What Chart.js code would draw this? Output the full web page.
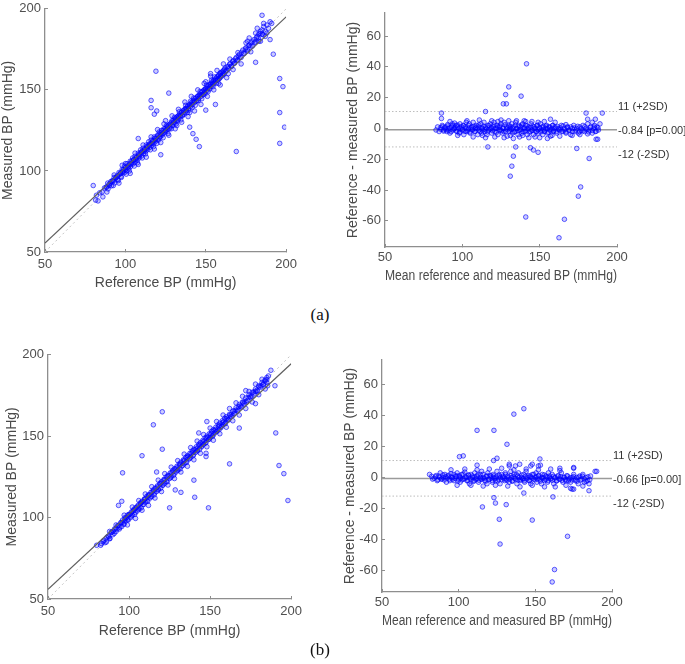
<!DOCTYPE html>
<html><head><meta charset="utf-8">
<script src="https://cdn.jsdelivr.net/npm/chart.js@4.4.0/dist/chart.umd.min.js"></script>
<style>
html,body{margin:0;padding:0;background:#fff;}
body{width:685px;height:664px;position:relative;overflow:hidden;}
canvas{position:absolute;}
.cap{position:absolute;font-family:"Liberation Serif","Times New Roman",serif;font-size:17px;color:#111;width:40px;text-align:center;line-height:20px;}
</style></head><body>
<canvas id="c1"></canvas>
<canvas id="c2"></canvas>
<canvas id="c3"></canvas>
<canvas id="c4"></canvas>
<div class="cap" style="left:300px;top:305px">(a)</div>
<div class="cap" style="left:300px;top:640px">(b)</div>
<script>
// ---------------- DATA ----------------
const xTitleCorr = 'Reference BP (mmHg)';
const yTitleCorr = 'Measured BP (mmHg)';
const xTitleBA = 'Mean reference and measured BP (mmHg)';
const yTitleBA = 'Reference - measured BP (mmHg)';

// (a) correlation: [reference, measured]
const corrABand = [[82,85],[83,81.5],[84,86.5],[85.5,87],[86,84],[87,89.5],[88,90],[88.5,87],[89,92.5],[90,91],[91,93.5],[92,94],[92.5,91],[93,96],[94,95.5],[95,97],[95.5,94],[96,99],[97,98.5],[97.5,96],[98,101],[98.5,99],[99,100],[99.5,103],[100,101],[100.5,98],[101,104.5],[101.5,102],[102,103],[102.5,100],[103,106],[103.5,104],[104,105],[104.5,108],[105,106.5],[105.5,103],[106,109],[106.5,107],[107,108],[107.5,105],[108,111],[108.5,109],[109,110],[109.5,113],[110,111.5],[110.5,108],[111,114],[111.5,112],[112,113],[112.5,110.5],[113,116],[113.5,114],[114,115],[114.5,118],[115,116],[115.5,113],[116,119],[116.5,117],[117,118],[117.5,115],[118,121],[118.5,119],[119,120],[119.5,117],[120,122],[120.5,119],[121,124],[121.5,121],[122,122.5],[122.5,125],[123,123],[123.5,120.5],[124,126],[124.5,124],[125,125],[125.5,128],[126,126.5],[126.5,123],[127,128],[127.5,126],[128,129],[128.5,126],[129,131],[129.5,128],[130,130],[130.5,133],[131,131.5],[131.5,129],[132,133],[132.5,131],[133,134],[133.5,136.5],[134,134],[134.5,131.5],[135,136],[135.5,134],[136,137],[136.5,135],[137,138],[137.5,140.5],[138,138.5],[138.5,136],[139,140],[139.5,137.5],[140,140.5],[140.5,143],[141,141],[141.5,139],[142,142.5],[142.5,145],[143,143],[143.5,140.5],[144,145],[144.5,143],[145,146],[145.5,143.5],[146,146.5],[146.5,149],[147,147],[147.5,144.5],[148,149],[148.5,147],[149,150],[149.5,147.5],[150,150.5],[150.5,153],[151,151],[151.5,149],[152,153],[152.5,150.5],[153,153.5],[153.5,156],[154,154],[154.5,152],[155,155.5],[155.5,158],[156,156],[156.5,154],[157,158],[157.5,156],[158,159],[158.5,157],[159,160.5],[159.5,158],[160,161],[160.5,159],[161,162],[161.5,160],[162,163.5],[163,162],[164,164.5],[165,166],[166,164.5],[167,168],[168,166.5],[169,170],[170,168.5],[171,172],[172,170],[173,174.5],[174,172.5],[175,176],[176,174],[177,177.5],[178,179],[179,177],[180,181],[181,179.5],[182,183],[183,184.5],[184,186],[185,187],[185.5,184],[186,189],[187,186],[188,190],[189,188],[190,192]];
const corrACore = [[88.4,90.1],[89.2,88.9],[89.7,91.6],[90.5,92.3],[91.3,90.8],[91.8,93.7],[92.7,94.0],[93.4,92.6],[94.0,95.9],[94.8,96.4],[95.3,94.7],[96.2,97.8],[96.9,98.6],[97.3,96.5],[98.2,99.7],[98.8,100.8],[99.4,98.9],[100.2,102.3],[100.8,100.1],[101.3,103.2],[102.1,101.4],[102.8,104.6],[103.2,102.7],[104.0,106.2],[104.7,104.3],[105.2,107.1],[106.0,105.4],[106.7,108.3],[107.3,106.6],[108.1,109.9],[108.6,108.0],[109.3,111.2],[110.0,109.2],[110.6,112.4],[111.3,110.7],[111.9,113.5],[112.6,112.1],[113.2,114.9],[113.9,113.1],[114.5,116.3],[115.2,114.6],[115.8,117.2],[116.4,115.9],[117.1,118.8],[117.7,116.9],[118.3,120.1],[119.0,118.4],[119.6,121.0],[120.3,119.7],[120.9,122.5],[121.5,120.8],[122.2,123.6],[122.8,122.0],[123.4,124.9],[124.1,123.3],[124.7,126.1],[125.3,124.6],[126.0,127.4],[126.6,125.7],[127.2,128.6],[127.9,127.1],[128.5,129.8],[129.1,128.3],[129.8,131.2],[130.4,129.5],[131.0,132.3],[131.7,130.9],[132.3,133.6],[132.9,132.1],[133.6,134.9],[134.2,133.4],[134.8,136.1],[135.5,134.5],[136.1,137.4],[136.7,135.9],[137.4,138.5],[138.0,137.2],[138.6,139.9],[139.3,138.4],[139.9,141.1],[140.5,139.6],[141.2,142.4],[141.8,140.8],[142.4,143.5],[143.1,142.3],[143.7,144.8],[144.3,143.4],[145.0,146.2],[145.6,144.7],[146.2,147.3],[146.9,145.9],[147.5,148.7],[148.1,147.1],[148.8,149.8],[149.4,148.5],[150.0,151.1],[150.7,149.6],[151.3,152.4],[151.9,150.8],[152.6,153.5],[153.2,152.2],[153.8,154.9],[154.5,153.3],[155.1,156.2],[155.7,154.6],[156.4,157.3],[157.0,156.0],[157.6,158.6],[158.3,157.1],[158.9,159.9],[159.5,158.5],[160.2,161.0],[160.8,159.8],[161.6,162.5],[162.5,161.4],[163.3,164.1],[164.2,163.0],[165.0,165.9],[165.9,164.6],[166.8,167.5],[167.6,166.4],[168.5,169.2],[169.4,168.1],[170.3,171.0],[171.3,170.1],[172.4,173.2],[173.5,172.6],[174.7,175.3],[175.8,174.9],[176.9,177.6],[178.1,177.0],[179.3,180.0],[180.4,179.3],[181.6,182.2],[182.8,181.9],[183.9,184.8],[185.0,184.3]];
const corrASpread = [[93,97.5],[96,92.5],[98,103.5],[100,104.5],[103,98.5],[106,111],[108,104],[111,116],[113,108.5],[116,121],[118,113.5],[120,125.5],[122,117.5],[124,129],[125,131],[127,122],[129,134],[131,126],[132,128],[133,138],[135,130],[137,142.5],[139,133.5],[140,136],[141,146],[143,137],[145,150],[147,141],[149,154],[150,155],[151,146],[153,158.5],[155,150],[157,162],[158,154],[159,153],[161,166],[163,157.5],[164,160],[165,169],[167,162.5],[170,173],[172,166],[175,179],[178,173.5],[181,185],[184,180],[186,191],[188,185],[176,180],[183,180],[187,183]];
const corrAOut = [[80,91],[81.5,82],[119,161.5],[116,143.5],[116,139],[118,135],[119.5,137],[127,148],[108,120],[122,110],[140,127],[142,123],[144,119.5],[146,115],[150,137.5],[156,141],[153,160],[169,112],[181,167],[192,172],[196,157],[198,152],[196,136],[199,127],[196,117],[185,196],[191,191],[190,181],[177,182],[182,188]];
const regLineA = [[50,55.5],[200,195]];

// (a) Bland-Altman: [mean, difference]
const baABand = [[83,-1],[84,1],[85,-2],[86,0.5],[87,2],[88,-1],[89,1],[90,-2],[90.5,2.5],[91,0],[92,-3],[93,1],[93.5,3],[94,-1],[95,0],[96,2],[96.5,-2],[97,1],[98,-3],[98.5,3],[99,0],[100,-1],[100.5,2],[101,-4],[102,1],[102.5,4],[103,-2],[104,0],[104.5,3],[105,-3],[106,1],[106.5,-1],[107,4],[108,-2],[108.5,0],[109,2],[110,-4],[110.5,1],[111,-1],[112,3],[112.5,-3],[113,0],[114,4],[114.5,-2],[115,1],[116,-4],[116.5,2],[117,-1],[118,3],[118.5,0],[119,-3],[120,1],[120.5,4],[121,-2],[122,0],[122.5,2],[123,-4],[124,1],[124.5,-1],[125,3],[126,-3],[126.5,0],[127,4],[128,-2],[128.5,1],[129,-5],[130,2],[130.5,-1],[131,0],[132,3],[132.5,-3],[133,1],[134,-2],[134.5,4],[135,0],[136,-4],[136.5,2],[137,-1],[138,1],[138.5,-3],[139,3],[140,0],[140.5,-2],[141,2],[142,-4],[142.5,0],[143,1],[144,-2],[144.5,3],[145,-1],[146,-4],[146.5,1],[147,0],[148,-2],[148.5,2],[149,-3],[150,0],[150.5,3],[151,-1],[152,-4],[152.5,1],[153,-2],[154,0],[154.5,2],[155,-3],[156,1],[156.5,-1],[157,-5],[158,0],[158.5,2],[159,-2],[160,1],[161,-3],[162,0],[163,-1],[164,2],[165,-2],[166,0],[167,-3],[168,1],[169,-1],[170,-4],[171,0],[172,2],[173,-2],[174,0],[175,-3],[176,1],[177,-1],[178,2],[179,-2],[180,0],[181,3],[182,-1],[183,1],[184,-3],[185,0],[185.5,2],[186,-2],[187,1],[188,-1],[189,3]];
const baACore = [[86.2,-0.6],[87.1,1.2],[87.9,-1.7],[88.8,0.3],[89.6,-0.9],[90.4,1.6],[91.2,-1.3],[92.1,0.5],[92.8,-2.1],[93.7,1.9],[94.4,-0.4],[95.3,0.8],[96.0,-1.6],[96.8,2.2],[97.7,-0.2],[98.4,-2.4],[99.2,1.1],[100.1,-0.7],[100.8,1.7],[101.7,-1.9],[102.4,0.2],[103.3,-1.1],[104.1,2.0],[104.9,-2.3],[105.7,0.6],[106.5,-0.5],[107.3,1.4],[108.2,-1.8],[108.9,0.9],[109.8,-0.3],[110.6,2.3],[111.4,-2.0],[112.2,0.4],[113.1,-1.2],[113.8,1.5],[114.7,-0.8],[115.5,0.1],[116.3,-2.2],[117.1,1.8],[117.9,-0.6],[118.8,0.7],[119.5,-1.5],[120.4,2.1],[121.2,-0.1],[122.0,-2.5],[122.8,1.0],[123.7,-0.9],[124.4,1.6],[125.3,-1.4],[126.1,0.3],[126.9,-2.1],[127.7,2.4],[128.6,-0.4],[129.4,0.9],[130.2,-1.9],[131.0,1.3],[131.8,-0.7],[132.7,0.1],[133.5,-2.3],[134.3,1.9],[135.1,-0.2],[135.9,-1.6],[136.8,1.2],[137.6,-0.8],[138.4,2.2],[139.2,-2.0],[140.1,0.5],[140.9,-1.1],[141.7,1.7],[142.5,-0.5],[143.3,-2.4],[144.2,0.8],[145.0,-1.3],[145.8,1.4],[146.6,-0.3],[147.5,-1.9],[148.3,2.0],[149.1,-0.9],[149.9,0.6],[150.7,-2.2],[151.6,1.1],[152.4,-0.6],[153.2,-1.7],[154.0,1.5],[154.9,-0.2],[155.7,-2.5],[156.5,0.9],[157.3,-1.0],[158.2,1.8],[159.0,-1.4],[159.8,0.2],[160.7,-2.0],[161.5,1.3],[162.4,-0.7],[163.3,0.4],[164.2,-1.8],[165.1,1.6],[166.0,-0.9],[167.0,-2.3],[168.0,0.7],[169.0,-1.2],[170.1,1.0],[171.2,-1.9],[172.3,0.3],[173.4,-1.1],[174.6,1.4],[175.7,-2.1],[176.8,0.0],[178.0,-1.5],[179.2,1.2],[180.4,-0.8],[181.6,-2.2],[182.8,0.6],[184.0,-1.3],[185.3,0.9],[186.5,-1.8],[187.7,0.4]];
const baASpread = [[92,4.5],[97,-4.5],[103,5],[107,-5.5],[111,5.5],[115,-6],[119,5],[121,-5.5],[125,5.5],[127,-6],[130,5],[133,-6.5],[135,5],[137,-5.5],[140,5],[143,-6],[145,4.5],[147,-5.5],[150,-6],[153,4.5],[155,-6.5],[160,4],[163,-5],[167,2.5],[171,-4.5],[176,-4],[181,-3.5],[184,4],[95,3.5],[113,-4.5],[123,4.5],[131,-4.5],[139,-4.5],[141,4.5],[149,4],[158,-4.5]];
const baAOut = [[141.5,42],[130,27],[128,22],[138,21],[126.5,16],[128.5,16],[115,11],[86.5,10],[86.5,6.5],[157,6],[180,10],[181,6],[190.5,10],[186,6],[116.5,-12],[134.5,-12],[133,-18],[132,-24.5],[131,-31],[144,-12.5],[146,-14],[149,-15.5],[141,-57.5],[166,-59],[162.5,-71],[175,-44],[176.5,-38],[174,-13],[182,-19.5],[186.5,-7],[187.5,-7]];
const baLimitsA = [11, -0.84, -12];           // +2SD, mean, -2SD
const baLabelsA = ['11 (+2SD)', '-0.84 [p=0.00]', '-12 (-2SD)'];

// (b) correlation
const corrBBand = [[83,84],[84.5,86],[86,85],[87,88.5],[88,87],[89,91],[90,89.5],[91,93],[92,91.5],[93,95],[94,93],[95,97],[95.5,94.5],[96,98.5],[97,96],[97.5,100],[98,98],[99,101.5],[99.5,98.5],[100,102],[101,100],[101.5,103.5],[102,101.5],[103,105],[103.5,102],[104,106],[105,104],[105.5,107.5],[106,105],[107,109],[107.5,106],[108,110],[109,108],[109.5,111.5],[110,109.5],[111,113],[111.5,110],[112,114],[113,112],[113.5,115.5],[114,113],[115,117],[115.5,114],[116,118],[117,116],[117.5,119.5],[118,117],[119,121],[119.5,118],[120,122],[121,120],[121.5,123.5],[122,121],[123,125],[123.5,122],[124,126],[125,124],[125.5,127.5],[126,125],[127,129],[127.5,126],[128,130],[129,128],[129.5,131.5],[130,129],[131,133],[131.5,130],[132,134],[133,132],[133.5,135.5],[134,133],[135,137],[135.5,134],[136,138],[137,136],[137.5,139.5],[138,137],[139,141],[139.5,138],[140,142],[141,140],[141.5,143.5],[142,141],[143,145],[143.5,142],[144,146],[145,144],[145.5,147.5],[146,145],[147,149],[147.5,146],[148,150],[149,148],[149.5,151.5],[150,149],[151,153],[151.5,150],[152,154],[153,152],[153.5,155.5],[154,153],[155,157],[155.5,154],[156,158],[157,156],[157.5,159.5],[158,157],[159,161],[159.5,158],[160,162],[161,160],[162,163.5],[163,162],[164,165.5],[165,164],[166,167.5],[167,166],[168,169.5],[169,168],[170,171],[171,170],[172,173.5],[173,172],[174,175.5],[175,174],[176,177],[177,176],[178,179],[179,177.5],[180,181],[181,180],[182,183],[183,182],[184,184.5],[185,183],[185,186],[185.5,181],[186,187]];
const corrBCore = [[84.1,85.3],[85.2,84.6],[86.3,87.8],[87.4,88.1],[88.2,87.2],[89.3,90.9],[90.1,91.6],[90.9,90.3],[91.8,93.5],[92.6,92.9],[93.4,95.2],[94.3,94.0],[95.0,96.8],[95.9,97.1],[96.6,96.0],[97.5,99.2],[98.2,99.7],[99.0,98.6],[99.9,101.6],[100.6,102.1],[101.4,100.9],[102.3,104.0],[103.0,104.5],[103.8,103.1],[104.7,106.4],[105.4,106.8],[106.2,105.6],[107.1,108.7],[107.8,109.3],[108.6,108.0],[109.5,111.1],[110.2,111.6],[111.0,110.3],[111.9,113.4],[112.6,114.0],[113.4,112.7],[114.3,115.8],[115.0,116.3],[115.8,115.1],[116.7,118.1],[117.4,118.7],[118.2,117.4],[119.1,120.5],[119.8,121.0],[120.6,119.8],[121.5,122.9],[122.2,123.4],[123.0,122.2],[123.9,125.2],[124.6,125.8],[125.4,124.5],[126.3,127.6],[127.0,128.1],[127.8,126.9],[128.7,129.9],[129.4,130.5],[130.2,129.3],[131.1,132.3],[131.8,132.8],[132.6,131.6],[133.5,134.7],[134.2,135.2],[135.0,134.0],[135.9,137.0],[136.6,137.6],[137.4,136.3],[138.3,139.4],[139.0,139.9],[139.8,138.7],[140.7,141.7],[141.4,142.3],[142.2,141.0],[143.1,144.1],[143.8,144.6],[144.6,143.4],[145.5,146.4],[146.2,147.0],[147.0,145.8],[147.9,148.8],[148.6,149.3],[149.4,148.1],[150.3,151.2],[151.0,151.7],[151.8,150.5],[152.7,153.5],[153.4,154.1],[154.2,152.9],[155.1,155.9],[155.8,156.4],[156.6,155.2],[157.5,158.2],[158.2,158.8],[159.0,157.6],[159.9,160.6],[160.6,161.1],[161.4,160.0],[162.3,162.9],[163.1,163.5],[164.0,162.7],[164.9,165.5],[165.8,166.0],[166.7,165.3],[167.6,168.1],[168.5,168.6],[169.4,167.9],[170.4,170.8],[171.4,171.2],[172.4,170.9],[173.5,173.8],[174.6,174.2],[175.7,174.6],[176.8,177.1],[177.9,177.6],[179.0,178.2],[180.2,180.4],[181.4,181.0],[182.6,181.8],[183.8,183.9],[185.0,184.7]];
const corrBSpread = [[88,91.5],[92,95.5],[97,101.5],[99,95.5],[102,106.5],[104,99.5],[106,110.5],[108,104.5],[110,114.5],[112,107.5],[114,119],[116,112],[118,123],[120,116],[122,127],[124,120],[126,131],[128,124],[130,135],[132,128],[134,139],[136,131.5],[138,143],[140,135.5],[142,147],[144,139.5],[146,151],[148,143.5],[150,155],[152,147.5],[154,159],[156,151.5],[158,163],[160,155.5],[162,167],[164,159.5],[166,170.5],[168,163],[170,174.5],[172,167],[174,177.5],[176,171],[178,182],[180,175.5],[182,185],[184,179]];
const corrBOut = [[80,83],[82.5,83],[120.5,165],[115,157],[120.5,142],[108,138],[96,127.5],[117,128],[95.5,110],[93.5,107.5],[125,106],[128.5,117],[132,115.5],[140,123],[140.5,112.5],[149,106],[162,133],[168,155],[147.5,137.5],[147.5,139.5],[190.5,152],[192.5,132],[195.5,127],[198,110.5],[190,181],[187.5,190.5],[178,170],[172,178],[148,159],[143,152]];
const regLineB = [[50,56],[200,194.5]];

// (b) Bland-Altman
const baBBand = [[81,2],[83,-1],[85,0.5],[86,-2],[87,1],[88,3],[89,-1],[90,0],[91,2],[92,-3],[93,1],[94,-1],[95,2.5],[96,0],[97,-2],[98,1],[99,3],[100,-1],[100.5,0.5],[101,-3],[102,2],[103,-1],[104,3.5],[105,0],[106,-2],[106.5,1.5],[107,-4],[108,2],[109,0],[110,-2],[110.5,3],[111,-1],[112,1],[113,-3],[114,2],[114.5,-1],[115,4],[116,0],[117,-2],[118,1],[118.5,-4],[119,3],[120,-1],[121,1],[122,-3],[122.5,2],[123,0],[124,-2],[125,4],[126,-1],[126.5,1],[127,-4],[128,2],[129,0],[130,-2],[130.5,3],[131,-1],[132,1],[133,-3],[134,4],[134.5,0],[135,-2],[136,2],[137,-1],[138,-4],[138.5,1],[139,3],[140,-2],[141,0],[142,-1],[142.5,2],[143,-3],[144,4],[145,0],[146,-2],[146.5,1],[147,-4],[148,2],[149,-1],[150,0],[150.5,3],[151,-3],[152,1],[153,-1],[154,-4],[154.5,2],[155,0],[156,-2],[157,1],[158,-3],[158.5,3],[159,0],[160,-1],[161,2],[162,-4],[163,0],[164,-2],[165,1],[166,-1],[167,3],[168,-3],[169,0],[170,-2],[171,1],[172,-1],[173,-3],[174,0],[175,2],[176,-2],[177,0],[178,-4],[179,1],[180,-1],[181,2],[182,-3],[183,0],[184,-2],[185,-4],[186,1],[189,4]];
const baBCore = [[82.4,0.8],[84.0,-0.5],[85.3,1.3],[86.5,-1.4],[87.6,0.2],[88.7,-0.9],[89.7,1.7],[90.6,-1.6],[91.5,0.6],[92.5,-0.3],[93.4,1.5],[94.2,-2.0],[95.1,0.4],[96.0,-1.1],[96.9,2.0],[97.7,-0.6],[98.6,0.9],[99.5,-2.2],[100.3,1.3],[101.2,-0.2],[102.1,-1.5],[102.9,2.2],[103.8,-0.8],[104.7,0.5],[105.5,-2.1],[106.4,1.6],[107.3,-0.4],[108.1,-1.3],[109.0,1.0],[109.9,-2.4],[110.7,0.3],[111.6,-0.9],[112.5,1.8],[113.3,-1.7],[114.2,0.1],[115.1,-1.0],[115.9,2.1],[116.8,-0.5],[117.7,-2.3],[118.5,0.8],[119.4,-1.2],[120.3,1.4],[121.1,-0.3],[122.0,-1.9],[122.9,1.1],[123.7,-0.7],[124.6,0.4],[125.5,-2.2],[126.3,1.7],[127.2,-0.1],[128.1,-1.4],[128.9,0.9],[129.8,-0.8],[130.7,2.0],[131.5,-1.8],[132.4,0.2],[133.3,-1.1],[134.1,1.3],[135.0,-2.4],[135.9,0.6],[136.7,-0.4],[137.6,1.9],[138.5,-1.6],[139.3,0.0],[140.2,-1.2],[141.1,1.6],[141.9,-0.6],[142.8,-2.1],[143.7,0.7],[144.5,-0.9],[145.4,1.2],[146.3,-1.9],[147.1,0.3],[148.0,-0.5],[148.9,2.0],[149.7,-1.5],[150.6,0.5],[151.5,-1.0],[152.3,1.4],[153.2,-2.3],[154.1,0.1],[154.9,-0.8],[155.8,1.7],[156.7,-1.3],[157.5,0.4],[158.4,-2.0],[159.3,1.0],[160.1,-0.6],[161.0,-1.7],[161.9,0.8],[162.8,-0.3],[163.7,-2.2],[164.6,1.1],[165.6,-1.0],[166.5,0.5],[167.5,-1.8],[168.5,0.2],[169.5,-1.3],[170.5,1.2],[171.6,-2.1],[172.7,-0.2],[173.8,-1.5],[174.9,0.6],[176.0,-1.1],[177.1,-2.4],[178.3,0.3],[179.5,-1.6],[180.7,0.9],[181.9,-0.9],[183.1,-2.5],[184.3,0.5],[185.5,-1.4]];
const baBSpread = [[95,5],[99,-5],[104,5.5],[108,-5],[112,5],[116,-5.5],[120,5.5],[124,-5],[128,6],[132,-5.5],[136,5],[140,-6],[144,5.5],[148,-5],[152,5],[156,-6],[160,5.5],[163,-6],[166,4.5],[170,-5],[173,-7],[175,-7.5],[181,-5.5],[185,-8.5],[137,7.5],[152,7.5],[147,7.5],[133,7.5],[166,6],[175,6]];
const baBOut = [[142.5,44.5],[136,41],[112,30.5],[123,30.5],[131.5,21.5],[100.5,13.5],[103,14],[122.8,11],[125,12.5],[153,12],[112,8],[133,8.6],[139.8,8.6],[148,8.6],[153.3,8],[175,6.5],[123,-13],[124,-16.5],[115.5,-19],[131,-17.5],[126.5,-27],[148,-27.5],[127,-43],[161.5,-12.5],[171,-38],[162.5,-59.5],[161,-67.5],[142.5,-10],[174,-7.5],[190,4]];
const baLimitsB = [11, -0.66, -12];
const baLabelsB = ['11 (+2SD)', '-0.66 [p=0.00]', '-12 (-2SD)'];

const identityLine = [[50,50],[200,200]];

// ---------------- STYLE ----------------
const FONT = '"Liberation Sans", Arial, Helvetica, sans-serif';
const TICK_C = '#4f4f4f', TITLE_C = '#4a4a4a', AX_C = '#8e8e8e';
const PT_BORDER = 'rgba(0,0,255,0.62)', PT_FILL = 'rgba(0,0,255,0.2)';

const toXY = a => a.map(p => ({x: p[0], y: p[1]}));

function place(id, left, top, w, h) {
  const c = document.getElementById(id);
  c.width = w; c.height = h;
  c.style.left = left + 'px'; c.style.top = top + 'px';
  c.style.width = w + 'px'; c.style.height = h + 'px';
  return c;
}

function axis(o) {
  return {
    type: 'linear', min: o.min, max: o.max,
    afterFit: s => { if (o.w != null) s.width = o.w; if (o.h != null) s.height = o.h; },
    border: {display: true, color: AX_C, width: 1.3},
    grid: {display: true, drawOnChartArea: false, drawTicks: true, tickLength: -3, color: AX_C, lineWidth: 1},
    ticks: {stepSize: o.step, includeBounds: false, color: TICK_C, font: {family: FONT, size: 13},
            padding: o.pad, maxRotation: 0, autoSkip: false},
    title: {display: true, text: o.title, color: TITLE_C, font: {family: FONT, size: 14}, padding: o.tpad}
  };
}

function pointsDataset(arrs) {
  return {data: toXY([].concat(...arrs)), pointRadius: 2.3, pointHoverRadius: 2.3, borderWidth: 1,
          borderColor: PT_BORDER, backgroundColor: PT_FILL, pointBorderColor: PT_BORDER,
          pointBackgroundColor: PT_FILL, showLine: false, order: 1};
}

const baLabelPlugin = {
  id: 'baLabels',
  afterDatasetsDraw(chart, args, opts) {
    if (!opts || !opts.texts) return;
    const {ctx, chartArea, scales} = chart;
    const dys = [-5, 1, 8];
    ctx.save();
    ctx.font = '11px ' + FONT;
    ctx.fillStyle = '#333333';
    ctx.textAlign = 'left';
    ctx.textBaseline = 'middle';
    opts.texts.forEach((t, i) => {
      ctx.fillText(t, chartArea.right + 1, scales.y.getPixelForValue(opts.values[i]) + dys[i]);
    });
    ctx.restore();
  }
};

function corrChart(id, g, arrs, reg) {
  const c = place(id, g.cx, g.cy, g.cw, g.ch);
  return new Chart(c, {
    type: 'scatter',
    data: {datasets: [
      {data: toXY(reg), showLine: true, borderColor: '#5e5e5e', borderWidth: 1.2, pointRadius: 0, order: 0},
      pointsDataset(arrs),
      {data: toXY(identityLine), showLine: true, borderColor: '#c4c4c4', borderWidth: 1, borderDash: [2, 3], pointRadius: 0, order: 2}
    ]},
    options: {
      responsive: false, animation: false, devicePixelRatio: 1,
      layout: {padding: {left: 0, bottom: 0, top: g.top - g.cy, right: g.cx + g.cw - g.right}},
      plugins: {legend: {display: false}, tooltip: {enabled: false}},
      scales: {
        x: axis({min: 50, max: 200, step: 50, h: g.cy + g.ch - g.bottom, pad: g.xpad, title: xTitleCorr, tpad: {top: 0, bottom: 2}}),
        y: axis({min: 50, max: 200, step: 50, w: g.left - g.cx, pad: 7, title: yTitleCorr, tpad: {top: g.ytp, bottom: 0}})
      }
    }
  });
}

function baChart(id, g, arrs, limits, labels) {
  const c = place(id, g.cx, g.cy, g.cw, g.ch);
  const hline = (v) => toXY([[50, v], [200, v]]);
  return new Chart(c, {
    type: 'scatter',
    data: {datasets: [
      pointsDataset(arrs),
      {data: hline(limits[1]), showLine: true, borderColor: '#9a9a9a', borderWidth: 1.6, pointRadius: 0, order: 2},
      {data: hline(limits[0]), showLine: true, borderColor: '#bdbdbd', borderWidth: 1, borderDash: [1.5, 2], pointRadius: 0, order: 3},
      {data: hline(limits[2]), showLine: true, borderColor: '#bdbdbd', borderWidth: 1, borderDash: [1.5, 2], pointRadius: 0, order: 3}
    ]},
    plugins: [baLabelPlugin],
    options: {
      responsive: false, animation: false, devicePixelRatio: 1,
      layout: {padding: {left: 0, bottom: 0, top: g.top - g.cy, right: g.cx + g.cw - g.right}},
      plugins: {legend: {display: false}, tooltip: {enabled: false}, baLabels: {texts: labels, values: limits}},
      scales: {
        x: axis({min: 50, max: 200, step: 50, h: g.cy + g.ch - g.bottom, pad: g.xpad, title: xTitleBA, tpad: {top: 0, bottom: 2}}),
        y: axis({min: g.ymin, max: g.ymax, step: 20, w: g.left - g.cx, pad: 7, title: yTitleBA, tpad: {top: g.ytp, bottom: 0}})
      }
    }
  });
}

corrChart('c1', {cx: 0, cy: -6, cw: 305, ch: 300, left: 45, top: 6, right: 288, bottom: 252, xpad: 8, ytp: 0},
          [corrABand, corrACore, corrASpread, corrAOut], regLineA);
baChart('c2', {cx: 340, cy: -6, cw: 345, ch: 293, left: 385, top: 13, right: 617, bottom: 247, xpad: 6, ytp: 4.5, ymin: -77, ymax: 75},
        [baABand, baACore, baASpread, baAOut], baLimitsA, baLabelsA);
corrChart('c3', {cx: 0, cy: 340, cw: 310, ch: 302, left: 48, top: 354, right: 292, bottom: 599, xpad: 8, ytp: 3.5},
          [corrBBand, corrBCore, corrBSpread, corrBOut], regLineB);
baChart('c4', {cx: 340, cy: 345, cw: 345, ch: 287, left: 382, top: 360, right: 612, bottom: 592, xpad: 6, ytp: 1.5, ymin: -74, ymax: 76},
        [baBBand, baBCore, baBSpread, baBOut], baLimitsB, baLabelsB);
</script>
</body></html>
